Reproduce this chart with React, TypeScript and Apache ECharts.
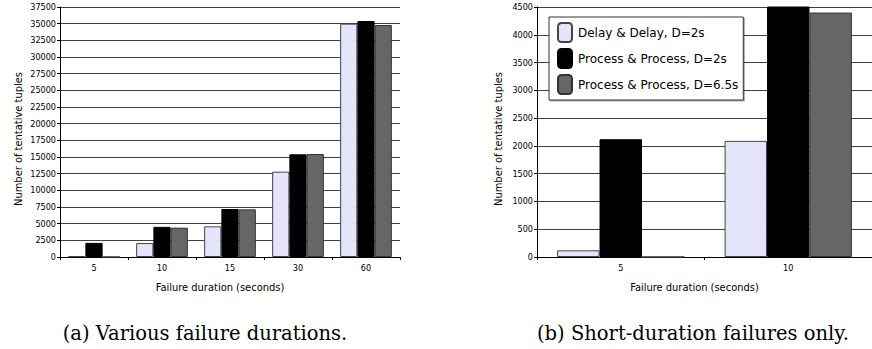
import React, { useEffect, useRef } from "react";
import * as echarts from "echarts";

const leftCategories = ["5", "10", "15", "30", "60"];
const rightCategories = ["5", "10"];
const seriesNames = [
  "Delay & Delay, D=2s",
  "Process & Process, D=2s",
  "Process & Process, D=6.5s",
];
const delayD2 = [120, 2090, 4600, 12800, 35000];
const processD2 = [2120, 4520, 7200, 15400, 35400];
const processD65 = [0, 4400, 7150, 15450, 34800];
const captions = ["(a) Various failure durations.", "(b) Short-duration failures only."];
const yTitle = "Number of tentative tuples";
const xTitle = "Failure duration (seconds)";

const colors = ["#E4E4FA", "#000000", "#666666"];
const borders = ["#444444", "#000000", "#333333"];

export default function App() {
  const ref = useRef<HTMLDivElement>(null);
  useEffect(() => {
    document.body.style.margin = "0";
    const chart = echarts.init(ref.current!, null, { renderer: "svg" });
    const condensed = "DejaVu Sans Condensed";
    const allData = [delayD2, processD2, processD65];
    const series: any[] = [];
    allData.forEach((d, i) => {
      series.push({
        type: "bar",
        name: seriesNames[i],
        xAxisIndex: 0,
        yAxisIndex: 0,
        data: d,
        barCategoryGap: "24%",
        barGap: "0%",
        itemStyle: { color: colors[i], borderColor: borders[i], borderWidth: 1 },
      });
      series.push({
        type: "bar",
        name: seriesNames[i],
        xAxisIndex: 1,
        yAxisIndex: 1,
        data: d.slice(0, rightCategories.length),
        barCategoryGap: "24%",
        barGap: "0%",
        itemStyle: { color: colors[i], borderColor: borders[i], borderWidth: 1 },
      });
    });
    const xAxisCommon = (idx: number, cats: string[]) => ({
      type: "category",
      gridIndex: idx,
      data: cats,
      axisLine: { lineStyle: { color: "#000", width: 1 } },
      axisTick: { show: true, length: 3, lineStyle: { color: "#000" } },
      axisLabel: { fontFamily: condensed, fontSize: 9, color: "#000", margin: 6 },
      name: xTitle,
      nameLocation: "middle",
      nameGap: 25,
      nameTextStyle: {
        fontFamily: condensed,
        fontSize: 11,
        color: "#000",
        padding: [0, 20, 0, 0],
      },
    });
    const yAxisCommon = (idx: number, max: number, interval: number, gap: number, fs: number) => ({
      type: "value",
      gridIndex: idx,
      min: 0,
      max,
      interval,
      axisLine: { show: true, lineStyle: { color: "#000", width: 1 } },
      axisTick: { show: true, length: 3, lineStyle: { color: "#000" } },
      axisLabel: {
        fontFamily: condensed,
        fontSize: fs,
        color: "#000",
        margin: 4,
        formatter: (v: number) => String(v),
      },
      splitLine: { show: true, lineStyle: { color: "#404040", width: 1 } },
      name: yTitle,
      nameLocation: "middle",
      nameRotate: 90,
      nameGap: gap,
      nameTextStyle: {
        fontFamily: condensed,
        fontSize: 11,
        color: "#000",
        padding: [0, 14, 0, 0],
      },
    });
    chart.setOption({
      animation: false,
      backgroundColor: "#fff",
      grid: [
        { left: 60, top: 7, width: 340, height: 250 },
        { left: 537, top: 7, width: 342, height: 250 },
      ],
      xAxis: [xAxisCommon(0, leftCategories), xAxisCommon(1, rightCategories)],
      yAxis: [yAxisCommon(0, 37500, 2500, 36, 9), yAxisCommon(1, 4500, 500, 33, 9)],
      legend: {
        orient: "vertical",
        left: 549,
        top: 17,
        data: seriesNames,
        itemWidth: 14,
        itemHeight: 19,
        itemGap: 5,
        padding: [5, 5, 5, 8],
        backgroundColor: "#fff",
        borderColor: "#333",
        borderWidth: 1,
        shadowColor: "rgba(0,0,0,0.35)",
        shadowOffsetX: 1,
        shadowOffsetY: 1,
        shadowBlur: 0,
        textStyle: {
          fontFamily: "DejaVu Sans",
          fontSize: 12,
          color: "#000",
          padding: [0, 0, 0, 1],
        },
      },
      graphic: [
        {
          type: "text",
          style: {
            text: captions[0],
            x: 205,
            y: 333,
            fontFamily: "DejaVu Serif",
            fontSize: 19.5,
            fill: "#000",
            align: "center",
            verticalAlign: "middle",
          },
        },
        {
          type: "text",
          style: {
            text: captions[1],
            x: 693,
            y: 333,
            fontFamily: "DejaVu Serif",
            fontSize: 19.5,
            fill: "#000",
            align: "center",
            verticalAlign: "middle",
          },
        },
      ],
      series,
    });
    return () => chart.dispose();
  }, []);
  return (
    <div
      ref={ref}
      style={{ position: "fixed", left: 0, top: 0, width: 872, height: 349 }}
    />
  );
}
